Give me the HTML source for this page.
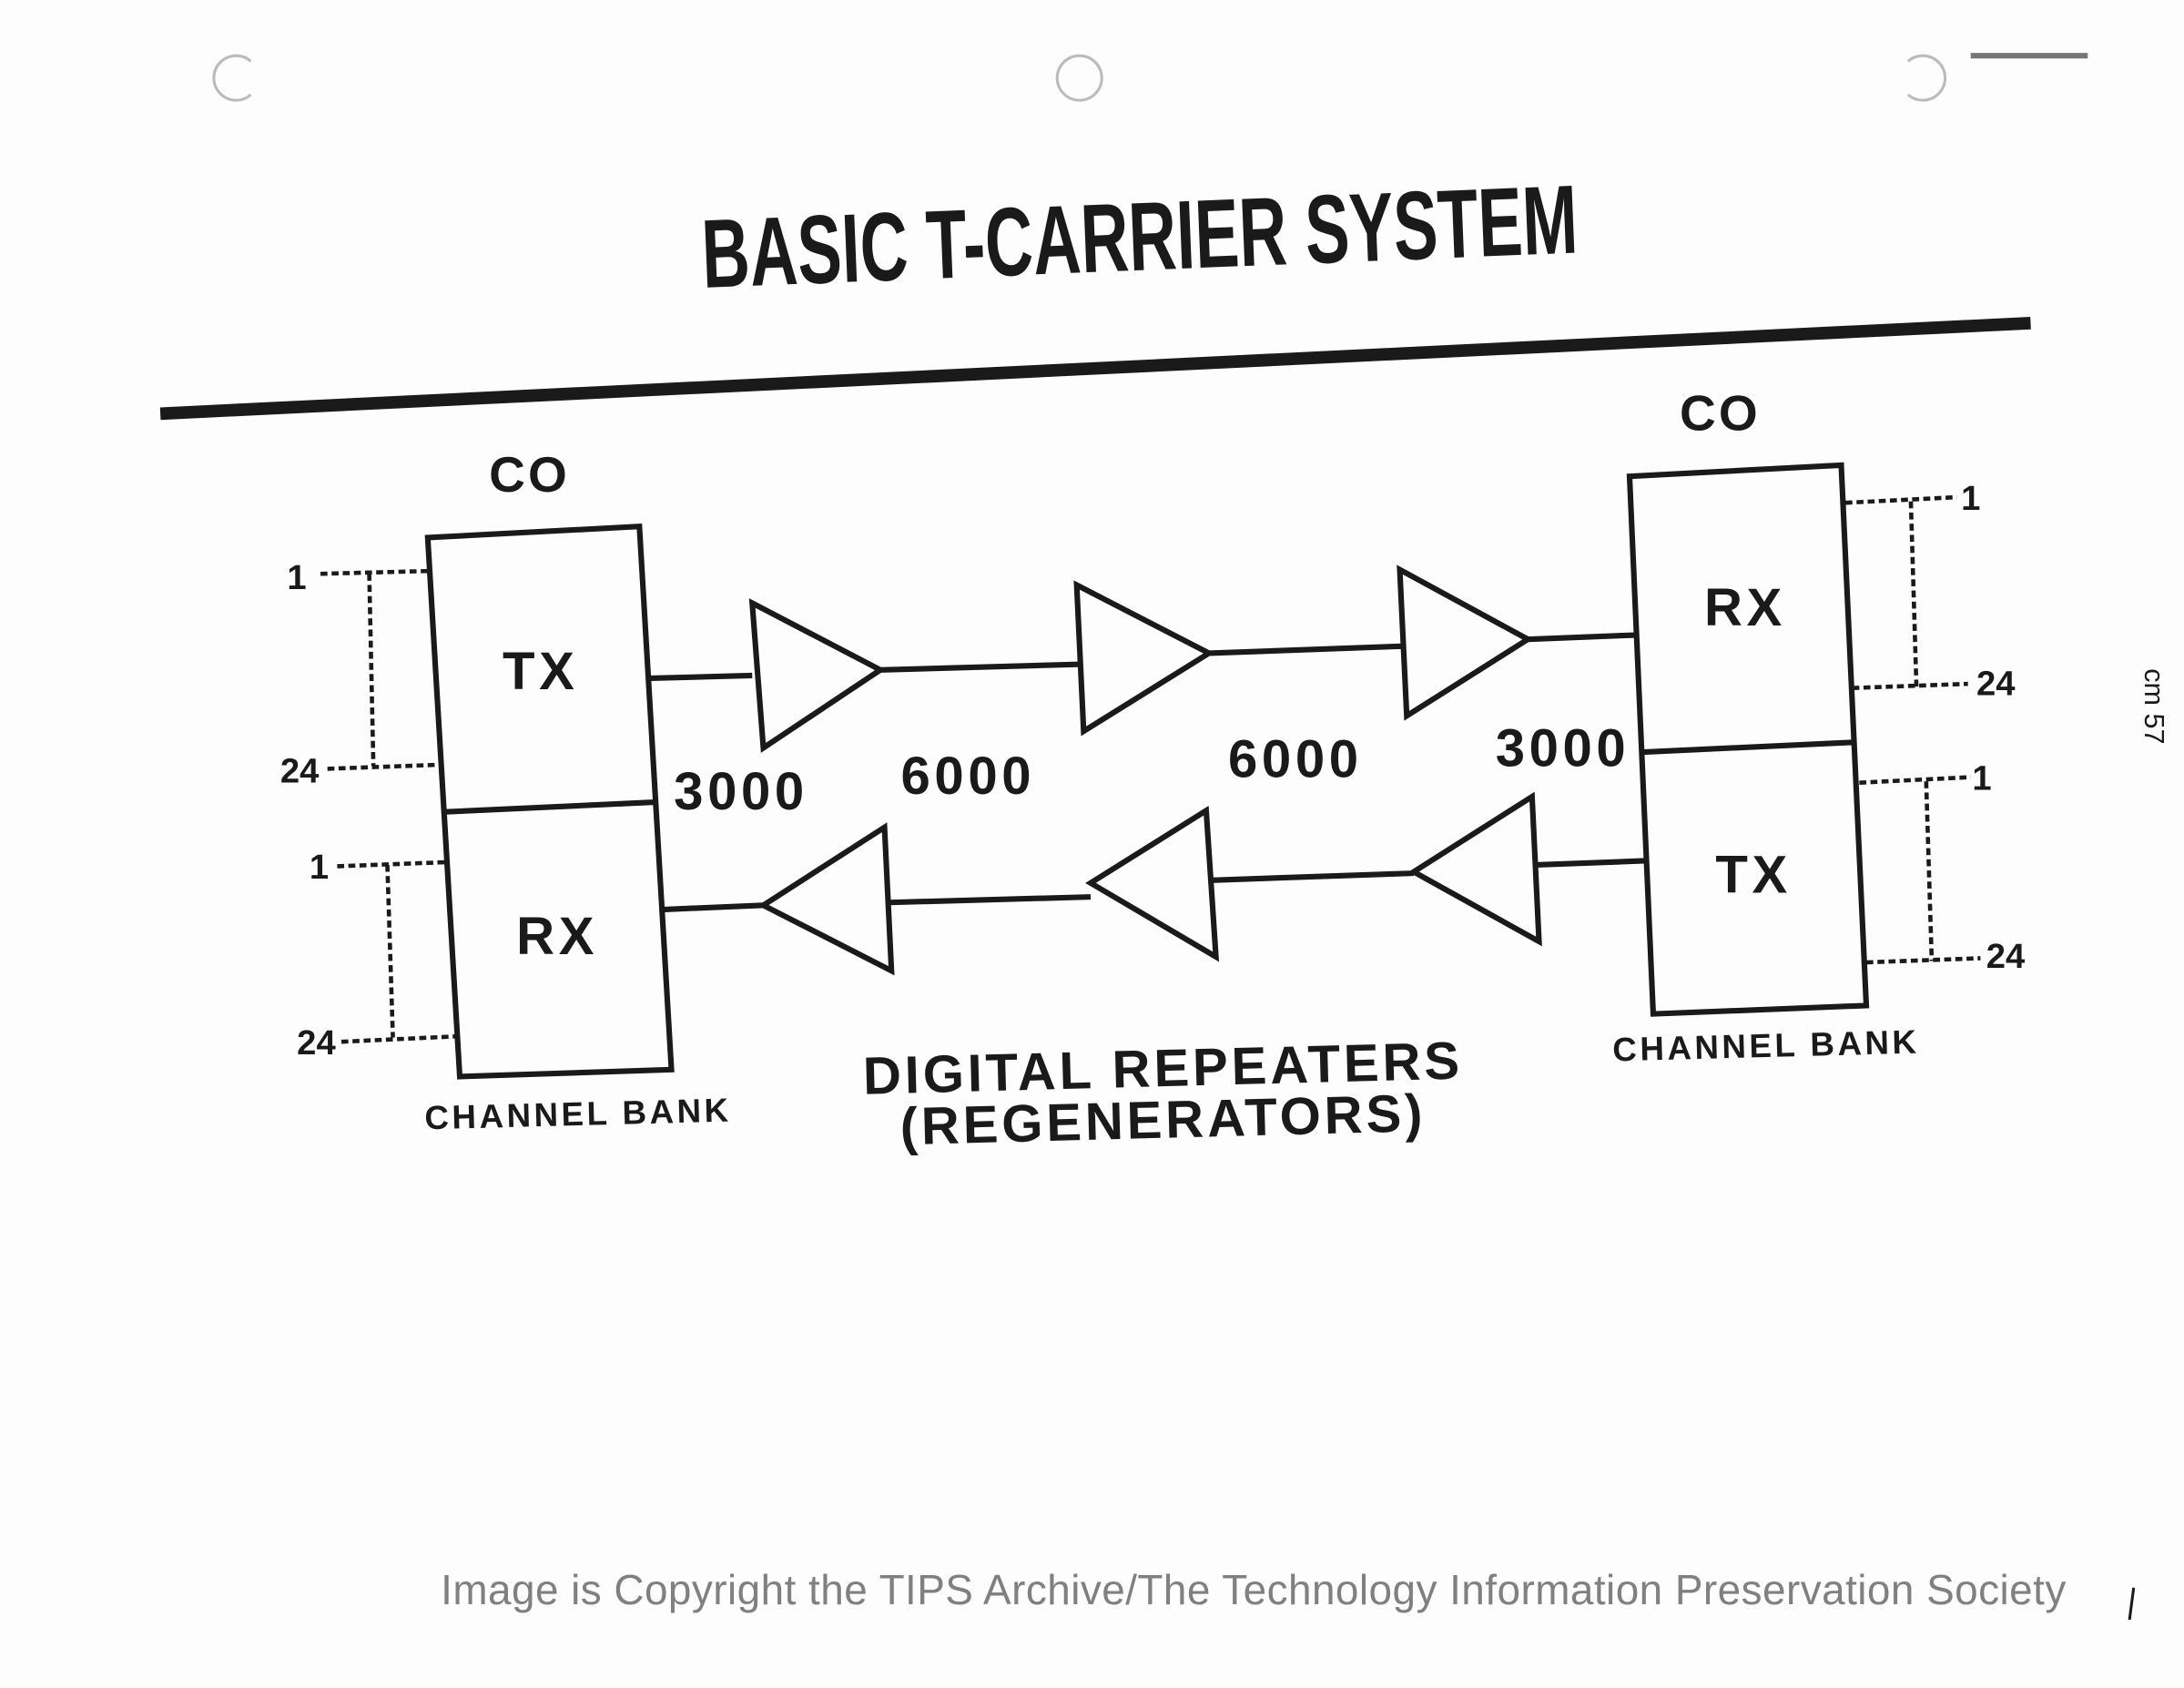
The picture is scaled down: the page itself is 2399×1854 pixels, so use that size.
<!DOCTYPE html>
<html><head><meta charset="utf-8"><style>
html,body{margin:0;padding:0;background:#fdfdfd;}
svg{display:block;}
text{font-family:"Liberation Sans",sans-serif;font-weight:bold;fill:#1a1a1a;}
</style></head><body>
<svg width="2399" height="1854" viewBox="0 0 1568 1212" xmlns="http://www.w3.org/2000/svg">
<rect width="1568" height="1212" fill="#fdfdfd"/>
<g fill="none" stroke="#bbb" stroke-width="2">
<path d="M180,44 A16,16 0 1,0 180,68"/>
<circle cx="775" cy="56" r="16"/>
<path d="M1370,44 A16,16 0 1,1 1370,68"/>
</g>
<rect x="1415" y="38" width="84" height="4" fill="#777"/>
<g transform="rotate(-2.3 818 165)">
<text x="818" y="194" font-size="70" text-anchor="middle" transform="translate(818 0) scale(0.68 1) translate(-818 0)">BASIC T-CARRIER SYSTEM</text>
</g>
<line x1="115" y1="297" x2="1458" y2="232" stroke="#1a1a1a" stroke-width="9"/>
<text x="380" y="353" font-size="36" text-anchor="middle" letter-spacing="2">CO</text>
<text x="1235" y="309" font-size="36" text-anchor="middle" letter-spacing="2">CO</text>
<g fill="none" stroke="#1a1a1a" stroke-width="4">
<polygon points="307,386 459,378 482,768 330,773"/>
<line x1="318" y1="583" x2="470" y2="576"/>
<polygon points="1170,342 1322,334 1340,722 1187,728"/>
<line x1="1180" y1="540" x2="1331" y2="533"/>
<polygon points="540,433 548,537 632,481"/>
<polygon points="773,420 778,525 868,469"/>
<polygon points="1005,409 1010,514 1097,459"/>
<polygon points="548,650 635,594 640,697"/>
<polygon points="783,634 866,582 873,687"/>
<polygon points="1015,626 1100,572 1105,676"/>
<line x1="467" y1="487" x2="540" y2="485"/>
<line x1="632" y1="481" x2="774" y2="477"/>
<line x1="868" y1="469" x2="1006" y2="464"/>
<line x1="1097" y1="459" x2="1174" y2="456"/>
<line x1="477" y1="653" x2="548" y2="650"/>
<line x1="638" y1="648" x2="783" y2="644"/>
<line x1="870" y1="632" x2="1015" y2="627"/>
<line x1="1103" y1="621" x2="1183" y2="618"/>
</g>
<g fill="none" stroke="#1a1a1a" stroke-width="3" stroke-dasharray="5,3">
<line x1="230" y1="412" x2="307" y2="410"/>
<line x1="265" y1="412" x2="268" y2="550"/>
<line x1="235" y1="552" x2="318" y2="549"/>
<line x1="242" y1="622" x2="322" y2="619"/>
<line x1="278" y1="621" x2="282" y2="745"/>
<line x1="245" y1="748" x2="330" y2="744"/>
<line x1="1325" y1="361" x2="1405" y2="357"/>
<line x1="1372" y1="360" x2="1376" y2="493"/>
<line x1="1330" y1="494" x2="1413" y2="491"/>
<line x1="1335" y1="562" x2="1415" y2="558"/>
<line x1="1383" y1="561" x2="1387" y2="690"/>
<line x1="1340" y1="691" x2="1422" y2="688"/>
</g>
<g font-size="25">
<text x="213" y="423" text-anchor="middle">1</text>
<text x="215" y="562" text-anchor="middle">24</text>
<text x="229" y="631" text-anchor="middle">1</text>
<text x="227" y="757" text-anchor="middle">24</text>
<text x="1415" y="366" text-anchor="middle">1</text>
<text x="1433" y="499" text-anchor="middle">24</text>
<text x="1423" y="567" text-anchor="middle">1</text>
<text x="1440" y="695" text-anchor="middle">24</text>
</g>
<g font-size="38" text-anchor="middle" letter-spacing="3">
<text x="388" y="495">TX</text>
<text x="400" y="685">RX</text>
<text x="1253" y="449">RX</text>
<text x="1259" y="641">TX</text>
<text x="532" y="581">3000</text>
<text x="695" y="570">6000</text>
<text x="930" y="558">6000</text>
<text x="1122" y="550">3000</text>
</g>
<g font-size="38" text-anchor="middle" letter-spacing="2.5">
<text x="835" y="780" transform="rotate(-1.5 835 770)">DIGITAL REPEATERS</text>
<text x="835" y="817" transform="rotate(-1.5 835 805)">(REGENERATORS)</text>
</g>
<g font-size="24" text-anchor="middle" letter-spacing="2.3">
<text x="415" y="808" transform="rotate(-1.5 415 800)">CHANNEL BANK</text>
<text x="1268" y="759" transform="rotate(-1.5 1268 750)">CHANNEL BANK</text>
</g>
<text x="1540" y="480" font-size="20" transform="rotate(90 1540 480)" style="font-weight:normal">cm 57</text>
<text x="900" y="1152" font-size="30" text-anchor="middle" letter-spacing="0.3" style="font-weight:normal;fill:#808080">Image is Copyright the TIPS Archive/The Technology Information Preservation Society</text>
<line x1="1532" y1="1140" x2="1529" y2="1163" stroke="#1a1a1a" stroke-width="2"/>
</svg>
</body></html>
